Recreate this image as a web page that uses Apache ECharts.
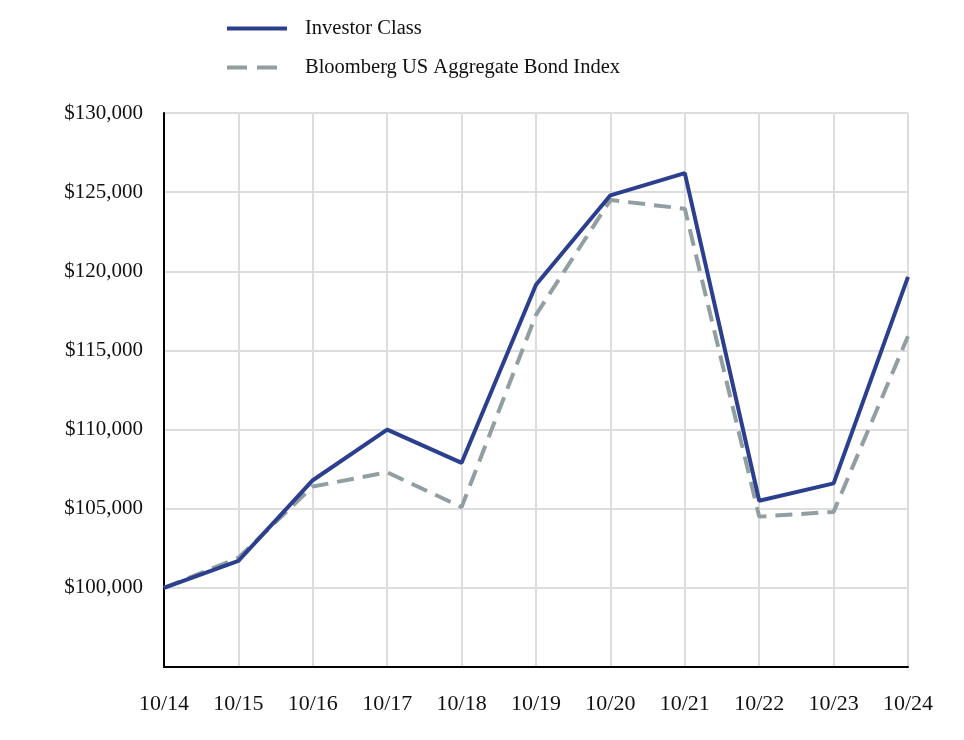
<!DOCTYPE html>
<html>
<head>
<meta charset="utf-8">
<script src="https://cdn.jsdelivr.net/npm/echarts@6/dist/echarts.min.js"></script>
<style>html,body{margin:0;padding:0;background:#fff}#c{width:964px;height:740px}</style>
</head>
<body>
<div id="c"></div>
<script>
var categories = ['10/14','10/15','10/16','10/17','10/18','10/19','10/20','10/21','10/22','10/23','10/24'];
var investorClass = [100000,101700,106800,110000,107900,119150,124800,126200,105500,106600,119650];
var bloombergIndex = [100000,101900,106400,107300,105100,117250,124500,123950,104500,104800,115900];
var seriesNames = ['Investor Class','Bloomberg US Aggregate Bond Index'];

var font = '"Liberation Serif", "DejaVu Serif", serif';
var chart = echarts.init(document.getElementById('c'));
chart.setOption({
  animation: false,
  legend: {
    orient: 'vertical',
    left: 222,
    top: 13,
    itemWidth: 60,
    itemHeight: 4,
    itemGap: 18,
    textStyle: { fontFamily: font, fontSize: 20.5, color: '#111', padding: [0,0,0,13] },
    data: [
      { name: seriesNames[0], icon: 'path://M0,0H60V4H0Z' },
      { name: seriesNames[1], icon: 'path://M0,0H20V4H0Z M30,0H50V4H30Z M59.95,0H60V0.02H59.95Z' }
    ]
  },
  grid: { left: 164, right: 56, top: 113, bottom: 73, containLabel: false },
  xAxis: {
    type: 'category',
    data: categories,
    boundaryGap: false,
    axisLine: { show: true, lineStyle: { color: '#000', width: 2 } },
    axisTick: { show: false },
    axisLabel: { fontFamily: font, fontSize: 22, color: '#111', margin: 26 },
    splitLine: { show: true, lineStyle: { color: '#dddddd', width: 2 } }
  },
  yAxis: {
    type: 'value',
    min: 95000,
    max: 130000,
    interval: 5000,
    axisLine: { show: true, lineStyle: { color: '#000', width: 2 } },
    axisTick: { show: false },
    axisLabel: {
      fontFamily: font, fontSize: 21, color: '#111', margin: 21,
      formatter: function (v) { return v === 95000 ? '' : '$' + v.toLocaleString('en-US'); }
    },
    splitLine: { show: true, lineStyle: { color: '#dddddd', width: 2 } }
  },
  series: [
    {
      name: seriesNames[0], type: 'line', data: investorClass,
      symbol: 'none', z: 3,
      lineStyle: { color: '#2b3f8e', width: 4 },
      itemStyle: { color: '#2b3f8e' }
    },
    {
      name: seriesNames[1], type: 'line', data: bloombergIndex,
      symbol: 'none', z: 2,
      lineStyle: { color: '#919ea2', width: 4, type: [17, 9] },
      itemStyle: { color: '#919ea2' }
    }
  ]
});
</script>
</body>
</html>
